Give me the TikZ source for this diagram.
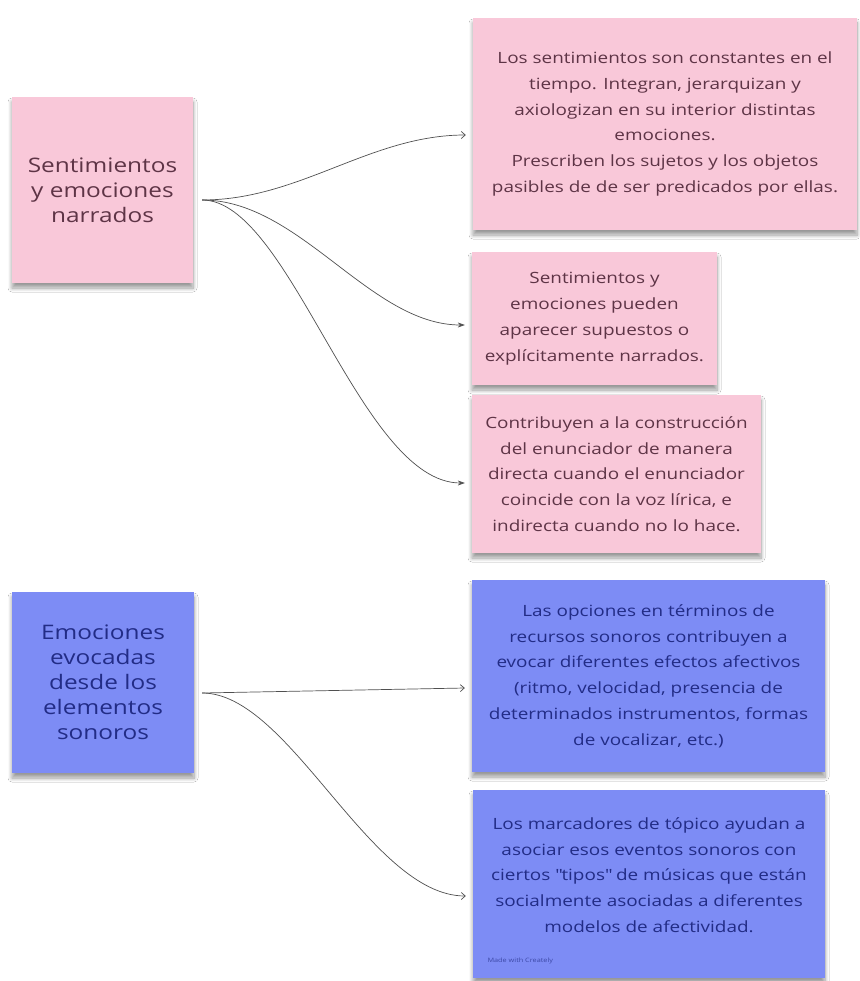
\documentclass[tikz,border=0pt]{standalone}
\usepackage{fontspec}
\setmainfont{Open Sans}[FakeStretch=1.22]
\usetikzlibrary{arrows.meta,shadows.blur}
\definecolor{pinkfill}{HTML}{F9C8D9}
\definecolor{bluefill}{HTML}{7D8CF5}
\definecolor{pinktext}{HTML}{5E3446}
\definecolor{bluetext}{HTML}{222C86}
\definecolor{linkcol}{HTML}{505050}
\tikzset{
  note/.style={inner sep=0pt, align=center,
    blur shadow={shadow xshift=0pt, shadow yshift=-5pt, shadow opacity=40, shadow blur steps=8, shadow blur radius=4pt}},
  pinknote/.style={note, fill=pinkfill, text=pinktext},
  bluenote/.style={note, fill=bluefill, text=bluetext},
  bigtxt/.style={font=\fontsize{20}{25}\selectfont},
  smalltxt/.style={font=\fontsize{15.5}{25.8}\selectfont},
  link/.style={draw=linkcol, line width=0.7pt, -{Stealth[length=7pt,width=5pt]}},
  openlink/.style={draw=linkcol, line width=0.7pt, -{Straight Barb[length=4pt,width=7pt]}}
}
\begin{document}
\begin{tikzpicture}[x=1pt,y=-1pt]
\useasboundingbox[fill=white] (0,0) rectangle (859,981);

% left boxes
\node[pinknote, bigtxt, minimum width=181pt, minimum height=186pt] (lp) at (102.5,190)
  {Sentimientos\\y emociones\\narrados};
\node[bluenote, bigtxt, minimum width=182pt, minimum height=181pt] (lb) at (103,682.5)
  {Emociones\\evocadas\\desde los\\elementos\\sonoros};

% right pink boxes
\node[pinknote, smalltxt, minimum width=384pt, minimum height=212pt] (p1) at (665,124)
  {Los sentimientos son constantes en el\\tiempo. Integran, jerarquizan y\\axiologizan en su interior distintas\\emociones.\\Prescriben los sujetos y los objetos\\pasibles de de ser predicados por ellas.};
\node[pinknote, smalltxt, minimum width=245pt, minimum height=133pt] (p2) at (594.5,318.5)
  {Sentimientos y\\emociones pueden\\aparecer supuestos o\\explícitamente narrados.};
\node[pinknote, smalltxt, minimum width=289pt, minimum height=158pt] (p3) at (616.5,474)
  {Contribuyen a la construcción\\del enunciador de manera\\directa cuando el enunciador\\coincide con la voz lírica, e\\indirecta cuando no lo hace.};

% right blue boxes
\node[bluenote, smalltxt, minimum width=353pt, minimum height=192pt] (b1) at (648.5,676)
  {Las opciones en términos de\\recursos sonoros contribuyen a\\evocar diferentes efectos afectivos\\(ritmo, velocidad, presencia de\\determinados instrumentos, formas\\de vocalizar, etc.)};
\node[bluenote, minimum width=352pt, minimum height=188pt] (b2) at (649,884) {};
\node[smalltxt, text=bluetext, align=center] (b2t) at (649,875)
  {Los marcadores de tópico ayudan a\\asociar esos eventos sonoros con\\ciertos \textquotedbl tipos\textquotedbl{} de músicas que están\\socialmente asociadas a diferentes\\modelos de afectividad.};
\node[anchor=west, text=bluetext!70!bluefill, font=\fontsize{6}{7}\selectfont] (wm) at (484,961) {Made with Creately};

% connectors
\coordinate (ps) at ([shift={(9,10)}]lp.east);
\coordinate (bs) at ([shift={(8,10.5)}]lb.east);
\draw[openlink] (ps) .. controls (300,200) and (370,135) .. ([shift={(-7,11)}]p1.west);
\draw[link] (ps) .. controls (300,200) and (370,325) .. ([shift={(-7,6.5)}]p2.west);
\draw[link] (ps) .. controls (290,200) and (360,483) .. ([shift={(-7,9)}]p3.west);
\draw[openlink] (bs) -- ([shift={(-7,12)}]b1.west);
\draw[openlink] (bs) .. controls (290,693) and (370,896) .. ([shift={(-7,12)}]b2.west);
\end{tikzpicture}
\end{document}
